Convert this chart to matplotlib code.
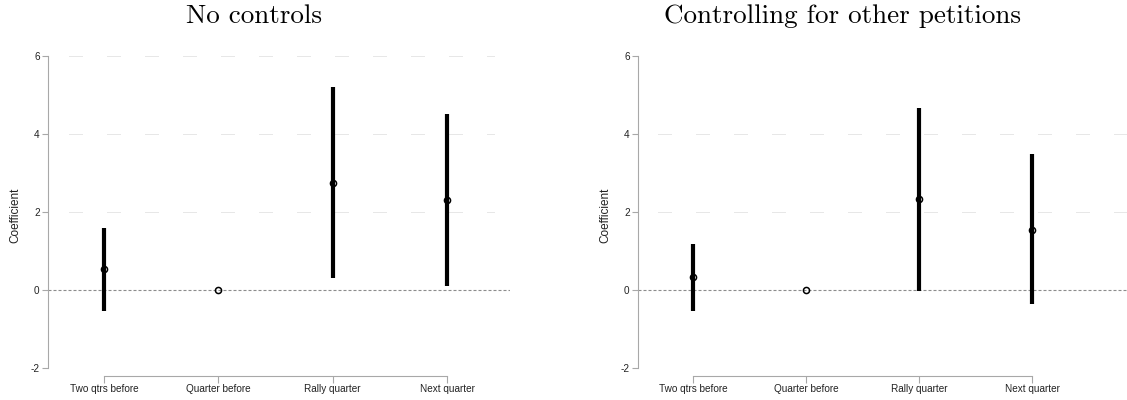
import matplotlib
matplotlib.use("Agg")
import matplotlib.pyplot as plt

plt.rcParams["lines.scale_dashes"] = False

categories = ["Two qtrs before", "Quarter before", "Rally quarter", "Next quarter"]

# Panel 1: no controls
coef_a = [0.53, 0.0, 2.74, 2.31]
low_a = [-0.55, None, 0.30, 0.11]
high_a = [1.58, None, 5.19, 4.51]

# Panel 2: controlling for other petitions
coef_b = [0.32, 0.0, 2.33, 1.54]
low_b = [-0.55, None, -0.02, -0.37]
high_b = [1.17, None, 4.67, 3.48]

titles = ["No controls", "Controlling for other petitions"]
grid_a = [2, 4, 6]
grid_b = [2, 4]
yticks = [-2, 0, 2, 4, 6]
ytick_labels = ["-2", "0", "2", "4", "6"]

W, H = 1127, 400
fig = plt.figure(figsize=(W / 100, H / 100), dpi=100)

spine_col = "#a8a8a8"
label_font = "Liberation Sans"
px = 0.72  # one pixel in points at 100 dpi


def draw_panel(left_px, right_px, xlim, coefs, lows, highs, grid_vals, grid_x, title, title_x):
    ax = fig.add_axes([left_px / W, 24 / H, (right_px - left_px) / W, (345 - 24) / H])
    ax.set_xlim(*xlim)
    ax.set_ylim(-2.205, 6.02)
    for s in ["top", "right"]:
        ax.spines[s].set_visible(False)
    ax.spines["left"].set_bounds(-2, 6)
    ax.spines["bottom"].set_bounds(0, len(categories) - 1)
    for s in ["left", "bottom"]:
        ax.spines[s].set_color(spine_col)
        ax.spines[s].set_linewidth(0.8)

    # light segmented gridlines: short dotted runs separated by gaps
    dotted_seg = (0, (px, px) * 6 + (px, 25 * px))
    for g in grid_vals:
        ax.plot(grid_x, [g, g], color="#c8c8c8", lw=0.6, linestyle=dotted_seg, zorder=1)

    # reference line at zero
    ax.axhline(0, color="#8c8c8c", lw=0.8, linestyle=(0, (3 * px, 2 * px)), zorder=1)

    xs = list(range(len(categories)))
    for x, c, lo, hi in zip(xs, coefs, lows, highs):
        if lo is not None:
            ax.plot([x, x], [lo, hi], color="black", lw=3.0, solid_capstyle="butt", zorder=2)
    ax.plot(xs, coefs, linestyle="none", marker="o", markersize=4.4,
            markerfacecolor="none", markeredgecolor="black", markeredgewidth=1.1, zorder=3)

    ax.set_yticks(yticks)
    ax.set_yticklabels(ytick_labels)
    ax.set_xticks(xs)
    ax.set_xticklabels(categories)
    ax.tick_params(axis="y", length=4, width=0.8, color=spine_col, pad=2,
                   labelsize=7.2, labelcolor="#222222")
    ax.tick_params(axis="x", length=5, width=0.8, color=spine_col, pad=0.5,
                   labelsize=7.2, labelcolor="#222222")
    for lab in ax.get_xticklabels() + ax.get_yticklabels():
        lab.set_fontfamily(label_font)
    ax.set_ylabel("Coefficient", fontsize=8.5, fontfamily=label_font, color="#222222", labelpad=7)

    fig.text(title_x / W, 1 - 16 / H, title, ha="center", va="center",
             fontsize=19.5, fontfamily="cmr10")
    return ax


draw_panel(48, 510, (-0.49, 3.55), coef_a, low_a, high_a, grid_a,
           [-0.306, 3.42], titles[0], 254)
draw_panel(638, 1127, (-0.487, 3.84), coef_b, low_b, high_b, grid_b,
           [-0.306, 3.84], titles[1], 842)

fig.savefig("out.png", dpi=100)
